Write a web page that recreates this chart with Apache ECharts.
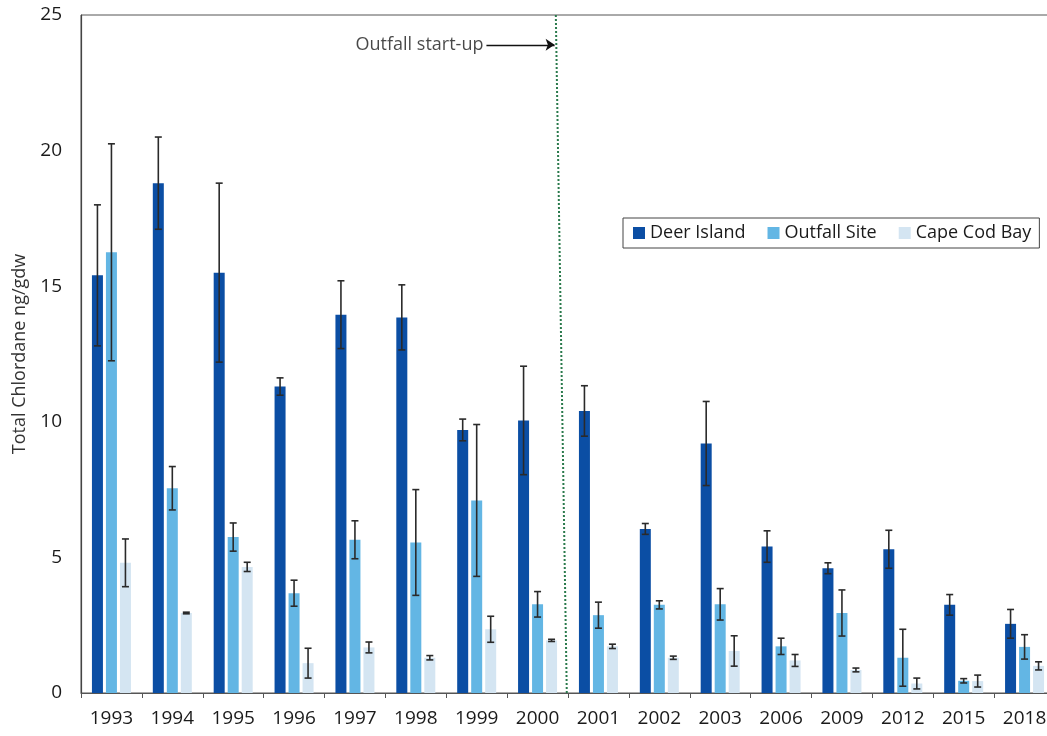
<!DOCTYPE html>
<html>
<head>
<meta charset="utf-8">
<script src="https://cdn.jsdelivr.net/npm/echarts@6/dist/echarts.min.js"></script>
<style>
  html, body { margin: 0; padding: 0; background: #fff; overflow: hidden; }
  /* the plot runs slightly past the right edge of the page, so the canvas is a bit wider */
  #chart { width: 1064px; height: 736px; }
</style>
</head>
<body>
<div id="chart"></div>
<script>
// Sampling years (categories on the x axis)
const years = ['1993', '1994', '1995', '1996', '1997', '1998', '1999', '2000',
               '2001', '2002', '2003', '2006', '2009', '2012', '2015', '2018'];

// Mean total chlordane (ng/gdw) and standard deviation per station
const deerIsland   = [15.4, 18.8, 15.5, 11.3, 13.95, 13.85, 9.7, 10.05, 10.4, 6.05, 9.2, 5.4, 4.6, 5.3, 3.25, 2.55];
const deerIslandSd = [2.6, 1.7, 3.3, 0.32, 1.25, 1.2, 0.4, 2.0, 0.93, 0.2, 1.55, 0.58, 0.2, 0.7, 0.38, 0.53];

const outfallSite   = [16.25, 7.55, 5.75, 3.68, 5.65, 5.55, 7.1, 3.27, 2.87, 3.25, 3.27, 1.72, 2.95, 1.3, 0.45, 1.7];
const outfallSiteSd = [4.0, 0.8, 0.52, 0.48, 0.7, 1.95, 2.8, 0.47, 0.48, 0.15, 0.58, 0.3, 0.85, 1.05, 0.08, 0.45];

const capeCodBay   = [4.8, 2.95, 4.65, 1.1, 1.68, 1.3, 2.35, 1.94, 1.72, 1.3, 1.55, 1.2, 0.85, 0.35, 0.44, 1.0];
const capeCodBaySd = [0.88, 0.03, 0.17, 0.55, 0.2, 0.08, 0.48, 0.04, 0.08, 0.06, 0.56, 0.22, 0.07, 0.2, 0.22, 0.15];

// Y axis range
const yMin = 0, yMax = 25, yStep = 5;

// Outfall start-up marker (positions on a 0..16 category-band scale)
const startupLine = [[7.80, 25], [7.98, 0]];
const startupArrow = [[6.66, 23.9], [7.78, 23.9]];
const startupLabel = 'Outfall start-up';

const FONT = "'Open Sans', 'Liberation Sans', sans-serif";
const TEXT = '#1a1a1a';
const colors = ['#0b4ea4', '#63b6e4', '#d4e5f2'];
const BAR_W = 11;
const BAR_GAP = 3;
const offsets = [-(BAR_W + BAR_GAP), 0, BAR_W + BAR_GAP];

function errorSeries(name, means, sds, offset) {
  return {
    name: name + ' SD',
    type: 'custom',
    xAxisIndex: 0,
    yAxisIndex: 0,
    z: 5,
    encode: { x: 0, y: 1 },
    data: means.map((m, i) => [i, m, sds[i]]),
    renderItem: function (params, api) {
      const idx = api.value(0);
      const mean = api.value(1);
      const sd = api.value(2);
      const hi = api.coord([idx, mean + sd]);
      const lo = api.coord([idx, Math.max(0, mean - sd)]);
      const x = hi[0] + offset;
      const half = 3.5;
      const style = { stroke: '#2a2a2a', lineWidth: 1.6 };
      return {
        type: 'group',
        children: [
          { type: 'line', shape: { x1: x, y1: hi[1], x2: x, y2: lo[1] }, style: style },
          { type: 'line', shape: { x1: x - half, y1: hi[1], x2: x + half, y2: hi[1] }, style: style },
          { type: 'line', shape: { x1: x - half, y1: lo[1], x2: x + half, y2: lo[1] }, style: style }
        ]
      };
    },
    silent: true
  };
}

const chart = echarts.init(document.getElementById('chart'), null, { renderer: 'canvas' });

chart.setOption({
  animation: false,
  backgroundColor: '#ffffff',
  textStyle: { fontFamily: FONT },
  grid: {
    left: 81, top: 15, width: 974, height: 678,
    show: true, borderColor: '#555', borderWidth: 1, backgroundColor: 'transparent'
  },
  legend: {
    data: ['Deer Island', 'Outfall Site', 'Cape Cod Bay'],
    left: 623, top: 218,
    padding: [6, 8, 6, 10],
    itemGap: 22,
    itemWidth: 12, itemHeight: 12,
    icon: 'rect',
    borderColor: '#444', borderWidth: 1,
    textStyle: { fontFamily: FONT, fontSize: 18, color: TEXT }
  },
  xAxis: [
    {
      type: 'category',
      data: years,
      boundaryGap: true,
      axisLine: { lineStyle: { color: '#555', width: 1.2 } },
      axisTick: { show: true, length: 5, lineStyle: { color: '#555' } },
      axisLabel: { fontFamily: FONT, fontSize: 19, color: TEXT, margin: 16 },
      splitLine: { show: false }
    },
    {
      type: 'value', min: 0, max: years.length, show: false
    }
  ],
  yAxis: {
    type: 'value',
    min: yMin, max: yMax, interval: yStep,
    name: 'Total Chlordane ng/gdw',
    nameLocation: 'middle',
    nameGap: 52,
    nameTextStyle: { fontFamily: FONT, fontSize: 18, color: '#333' },
    axisLine: { show: true, lineStyle: { color: '#444', width: 1.2 } },
    axisTick: { show: false },
    axisLabel: { fontFamily: FONT, fontSize: 19, color: TEXT, margin: 19 },
    splitLine: { show: false }
  },
  series: [
    { name: 'Deer Island', type: 'bar', data: deerIsland, barWidth: BAR_W, barGap: (BAR_GAP / BAR_W * 100) + '%',
      itemStyle: { color: colors[0] } },
    { name: 'Outfall Site', type: 'bar', data: outfallSite, barWidth: BAR_W,
      itemStyle: { color: colors[1] } },
    { name: 'Cape Cod Bay', type: 'bar', data: capeCodBay, barWidth: BAR_W,
      itemStyle: { color: colors[2] } },
    errorSeries('Deer Island', deerIsland, deerIslandSd, offsets[0]),
    errorSeries('Outfall Site', outfallSite, outfallSiteSd, offsets[1]),
    errorSeries('Cape Cod Bay', capeCodBay, capeCodBaySd, offsets[2]),
    {
      name: 'startup-line', type: 'line', xAxisIndex: 1, yAxisIndex: 0,
      data: startupLine, symbol: 'none', silent: true, z: 6,
      lineStyle: { color: '#2a7a4c', width: 2, type: 'dotted' }
    },
    {
      name: 'startup-arrow', type: 'lines', coordinateSystem: 'cartesian2d',
      xAxisIndex: 1, yAxisIndex: 0, silent: true, z: 6,
      symbol: ['none', 'arrow'], symbolSize: 9,
      lineStyle: { color: '#111', width: 1.4, opacity: 1 },
      data: [{ coords: startupArrow }]
    },
    {
      name: 'startup-label', type: 'scatter', xAxisIndex: 1, yAxisIndex: 0,
      data: [startupArrow[0]], symbolSize: 0, silent: true,
      label: {
        show: true, position: 'left', distance: 3,
        formatter: startupLabel,
        fontFamily: FONT, fontSize: 18, color: TEXT
      }
    }
  ]
});
</script>
</body>
</html>
